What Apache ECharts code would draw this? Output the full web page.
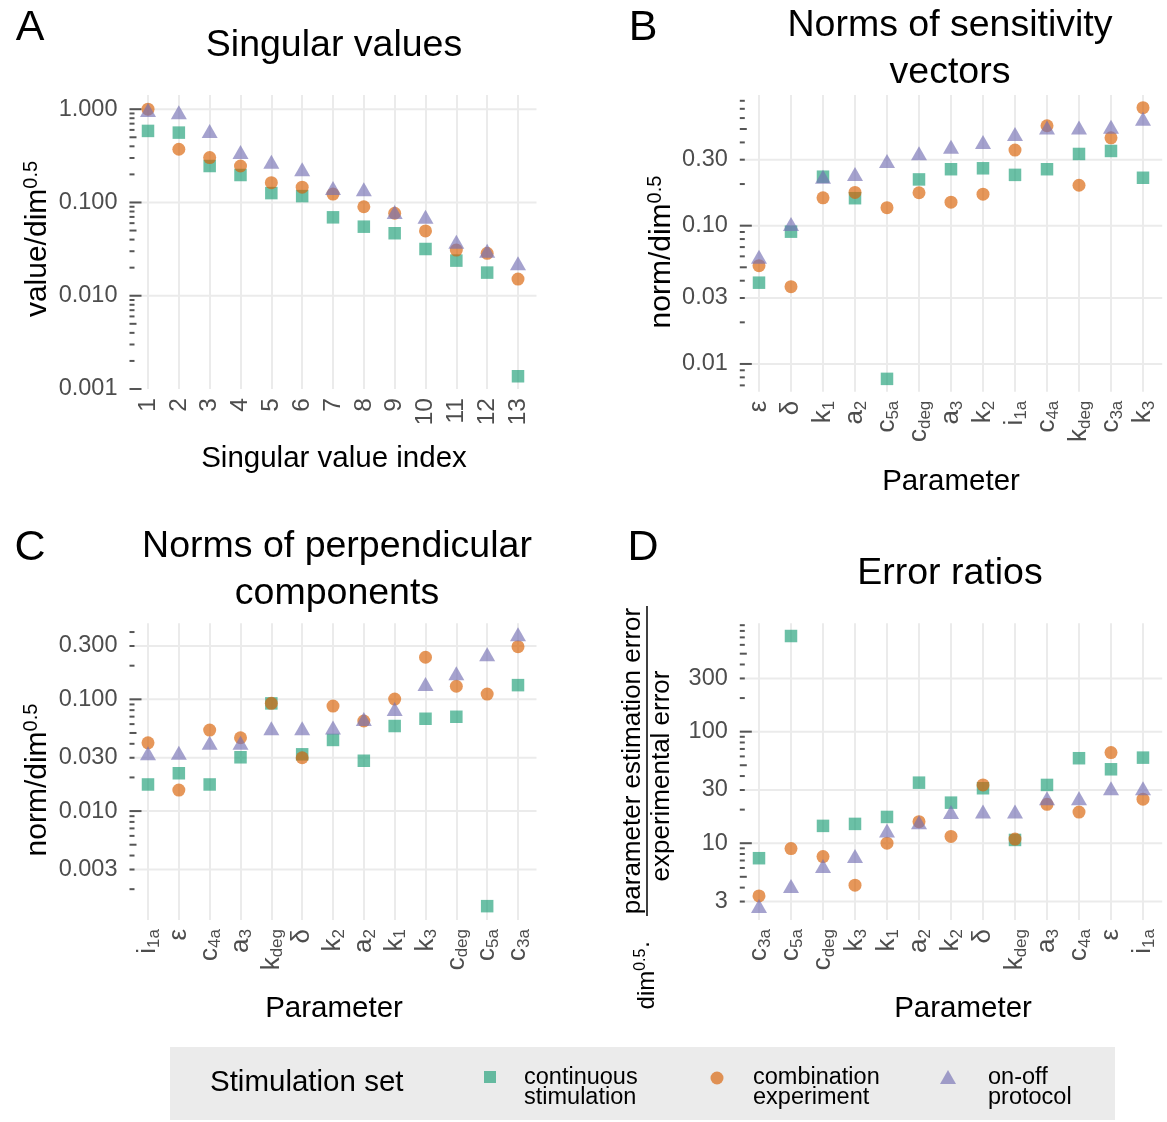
<!DOCTYPE html>
<html><head><meta charset="utf-8">
<script src="https://cdn.jsdelivr.net/npm/echarts@6/dist/echarts.min.js"></script>
<style>html,body{margin:0;padding:0;background:#fff}#c{width:1167px;height:1122px}</style>
</head><body><div id="c"></div><script>
// ---------- data ----------
const svIndex = ['1','2','3','4','5','6','7','8','9','10','11','12','13'];
const svContinuous  = [0.585,0.561,0.246,0.197,0.126,0.117,0.0693,0.055,0.0468,0.0317,0.0238,0.0177,0.00137];
const svCombination = [1.0,0.372,0.303,0.246,0.163,0.146,0.123,0.090,0.0766,0.0495,0.0309,0.0285,0.0151];
const svOnoff       = [0.98,0.93,0.585,0.348,0.274,0.227,0.143,0.139,0.079,0.0704,0.038,0.0304,0.0223];
const svTicks = [1, 0.1, 0.01, 0.001];
const svTickLabels = ['1.000','0.100','0.010','0.001'];

const sensParams = ['ε','δ','k_1','a_2','c_5a','c_deg','a_3','k_2','i_1a','c_4a','k_deg','c_3a','k_3'];
const sensContinuous  = [0.0387,0.0905,0.226,0.158,0.0078,0.216,0.256,0.260,0.233,0.256,0.330,0.347,0.222];
const sensCombination = [0.0514,0.0362,0.159,0.174,0.135,0.173,0.148,0.169,0.352,0.528,0.196,0.432,0.713];
const sensOnoff       = [0.0597,0.103,0.226,0.236,0.294,0.334,0.372,0.403,0.460,0.512,0.512,0.520,0.594];
const sensTicks = [0.3, 0.1, 0.03, 0.01];
const sensTickLabels = ['0.30','0.10','0.03','0.01'];

const perpParams = ['i_1a','ε','c_4a','a_3','k_deg','δ','k_2','a_2','k_1','k_3','c_deg','c_5a','c_3a'];
const perpContinuous  = [0.0173,0.0218,0.0173,0.0303,0.092,0.0322,0.0433,0.0282,0.0577,0.067,0.0698,0.00141,0.134];
const perpCombination = [0.0408,0.0154,0.0531,0.0453,0.092,0.030,0.0871,0.064,0.1006,0.238,0.131,0.1115,0.296];
const perpOnoff       = [0.0329,0.0333,0.0408,0.0408,0.055,0.055,0.0561,0.0667,0.0819,0.137,0.171,0.253,0.382];
const perpTicks = [0.3, 0.1, 0.03, 0.01, 0.003];
const perpTickLabels = ['0.300','0.100','0.030','0.010','0.003'];

const errParams = ['c_3a','c_5a','c_deg','k_3','k_1','a_2','k_2','δ','k_deg','a_3','c_4a','ε','i_1a'];
const errContinuous  = [7.34,720,14.3,14.9,17.2,34.9,23.1,31.1,10.7,33.3,57.8,46.0,58.5];
const errCombination = [3.37,8.95,7.59,4.21,10.0,15.6,11.5,33.3,10.9,22.3,19.0,64.9,24.8];
const errOnoff       = [2.74,4.14,6.26,7.7,13.0,15.4,19.0,19.2,19.2,25.3,25.3,31.1,31.1];
const errTicks = [300, 100, 30, 10, 3];
const errTickLabels = ['300','100','30','10','3'];

const seriesNames = ['continuous stimulation','combination experiment','on-off protocol'];

// ---------- style ----------
const FONT = '"Liberation Sans", Arial, Helvetica, sans-serif';
const COLORS = ['#1b9e77','#d95f02','#7570b3'];
const ALPHA = 0.65;
const SYMBOLS = ['rect','circle','triangle'];
const SIZES = [12.5, 13, [16,14]];
const GRIDCOL = '#ebebeb';
const TICKCOL = '#4d4d4d';

const panels = [
  {cats: svIndex, vals: [svContinuous, svCombination, svOnoff], ticks: svTicks, tickLabels: svTickLabels,
   min: 0.001, max: 1.42, grid: {left:148, top:95, width:370, height:294}, labelSize: 24.5},
  {cats: sensParams, vals: [sensContinuous, sensCombination, sensOnoff], ticks: sensTicks, tickLabels: sensTickLabels,
   min: 0.0063, max: 0.881, grid: {left:759, top:95, width:384, height:296.7}, labelSize: 26},
  {cats: perpParams, vals: [perpContinuous, perpCombination, perpOnoff], ticks: perpTicks, tickLabels: perpTickLabels,
   min: 0.00106, max: 0.479, grid: {left:148, top:623.3, width:370, height:296.7}, labelSize: 26},
  {cats: errParams, vals: [errContinuous, errCombination, errOnoff], ticks: errTicks, tickLabels: errTickLabels,
   min: 2.05, max: 936, grid: {left:759, top:623.3, width:384, height:296.7}, labelSize: 26}
];

function richLabel(s) {
  const i = s.indexOf('_');
  if (i < 0) return '{m|' + s + '}';
  return '{m|' + s.slice(0, i) + '}{s|' + s.slice(i + 1) + '}';
}

// annotation log ticks (1..9 x 10^k inside the axis range)
function logTicks(min, max) {
  const out = [];
  for (let e = Math.floor(Math.log10(min)); e <= Math.ceil(Math.log10(max)); e++) {
    for (let m = 1; m <= 9; m++) {
      const v = m * Math.pow(10, e);
      if (v >= min * 0.999 && v <= max) out.push([0, v, m === 1 ? 2 : (m === 5 ? 1 : 0)]);
    }
  }
  return out;
}

const grids = [], xAxes = [], yAxes = [], series = [];
panels.forEach((p, gi) => {
  grids.push(Object.assign({containLabel: false}, p.grid));
  xAxes.push({
    type: 'category', gridIndex: gi, data: p.cats, boundaryGap: false,
    axisLine: {show: false}, axisTick: {show: false},
    splitLine: {show: true, interval: 0, lineStyle: {color: GRIDCOL, width: 2}},
    axisLabel: {
      interval: 0, rotate: 90, margin: 9, color: TICKCOL,
      formatter: v => richLabel(v),
      rich: {
        m: {fontSize: p.labelSize, fontFamily: FONT, color: TICKCOL, lineHeight: p.labelSize + 3},
        s: {fontSize: 17, fontFamily: FONT, color: TICKCOL, verticalAlign: 'bottom', lineHeight: 17}
      }
    }
  });
  yAxes.push({type: 'log', gridIndex: gi, min: p.min, max: p.max, show: false});

  // horizontal grid lines + y tick labels
  series.push({
    type: 'custom', xAxisIndex: gi, yAxisIndex: gi, z: 1, silent: true, clip: false,
    data: p.ticks.map((v, i) => [0, v, i]),
    renderItem(params, api) {
      const cs = params.coordSys;
      const step = cs.width / (p.cats.length - 1);
      const v = api.value(1);
      const y = api.coord([0, v])[1];
      const x0 = cs.x - 0.6 * step, x1 = cs.x + cs.width + 0.6 * step;
      const children = [];
      if (v > p.min * 1.01) {
        children.push({type: 'line', shape: {x1: x0, y1: y, x2: x1, y2: y},
          style: {stroke: GRIDCOL, lineWidth: 2}});
      }
      children.push({type: 'text', x: x0 - 12, y: y,
        style: {text: p.tickLabels[api.value(2)], fill: TICKCOL, font: '23.5px ' + FONT,
          align: 'right', verticalAlign: 'middle'}});
      return {type: 'group', children};
    }
  });
  // log tick annotation on the left edge
  series.push({
    type: 'custom', xAxisIndex: gi, yAxisIndex: gi, z: 2, silent: true, clip: false,
    data: logTicks(p.min, p.max),
    renderItem(params, api) {
      const cs = params.coordSys;
      const step = cs.width / (p.cats.length - 1);
      const y = api.coord([0, api.value(1)])[1];
      const x0 = cs.x - 0.6 * step;
      const len = [5, 7, 12][api.value(2)];
      return {type: 'line', shape: {x1: x0, y1: y, x2: x0 + len, y2: y},
        style: {stroke: '#555555', lineWidth: 2}};
    }
  });
  // scatter series
  for (let k = 0; k < 3; k++) {
    series.push({
      type: 'scatter', name: seriesNames[k], xAxisIndex: gi, yAxisIndex: gi, z: 3 + k,
      symbol: SYMBOLS[k], symbolSize: SIZES[k],
      itemStyle: {color: COLORS[k], opacity: ALPHA},
      data: p.vals[k]
    });
  }
});

// ---------- text / decorations ----------
const T = (x, y, text, size, extra) => Object.assign({type: 'text', x, y,
  style: Object.assign({text, font: size + 'px ' + FONT, fill: '#000', align: 'center', verticalAlign: 'middle'}, extra || {})});

function rotTitle(x, y, main, sup, size) {
  return {type: 'text', x, y, rotation: Math.PI / 2,
    style: {text: '{a|' + main + '}{b|' + sup + '}', align: 'center', verticalAlign: 'middle',
      rich: {a: {fontSize: size, fontFamily: FONT, color: '#000', lineHeight: size + 4},
             b: {fontSize: 20, fontFamily: FONT, color: '#000', verticalAlign: 'top', lineHeight: 20}}}};
}

const TITLE = 37.5;
const graphic = [
  T(30, 28, 'A', 43), T(643, 28, 'B', 43), T(30, 548, 'C', 43), T(643, 548, 'D', 43),
  T(334, 46, 'Singular values', TITLE),
  T(950, 26, 'Norms of sensitivity', TITLE), T(950, 73, 'vectors', TITLE),
  T(337, 547, 'Norms of perpendicular', TITLE), T(337, 594, 'components', TITLE),
  T(950, 574, 'Error ratios', TITLE),
  T(334, 459, 'Singular value index', 29.5),
  T(951, 482, 'Parameter', 29.5), T(334, 1009, 'Parameter', 29.5), T(963, 1009, 'Parameter', 29.5),
  rotTitle(38, 239, 'value/dim', '0.5', 30),
  rotTitle(662, 252, 'norm/dim', '0.5', 30),
  rotTitle(38, 780, 'norm/dim', '0.5', 30),
  // D y-axis title: dim^0.5 · (parameter estimation error / experimental error)
  {type: 'text', x: 633, y: 761, rotation: Math.PI / 2,
    style: {text: 'parameter estimation error', font: '26px ' + FONT, fill: '#000', align: 'center', verticalAlign: 'middle'}},
  {type: 'line', shape: {x1: 647, y1: 606, x2: 647, y2: 916}, style: {stroke: '#000', lineWidth: 1.5}},
  {type: 'text', x: 662, y: 776, rotation: Math.PI / 2,
    style: {text: 'experimental error', font: '26px ' + FONT, fill: '#000', align: 'center', verticalAlign: 'middle'}},
  {type: 'text', x: 647, y: 975, rotation: Math.PI / 2,
    style: {text: '{a|dim}{b|0.5}{a|·}', align: 'center', verticalAlign: 'middle',
      rich: {a: {fontSize: 24, fontFamily: FONT, color: '#000', lineHeight: 28},
             b: {fontSize: 16, fontFamily: FONT, color: '#000', verticalAlign: 'top', lineHeight: 16}}}},
  // legend
  {type: 'rect', shape: {x: 170, y: 1047, width: 945, height: 73}, style: {fill: '#ebebeb'}},
  T(210, 1083, 'Stimulation set', 29.5, {align: 'left'}),
  {type: 'rect', shape: {x: 484, y: 1071, width: 12, height: 12}, style: {fill: COLORS[0], opacity: ALPHA}},
  {type: 'circle', shape: {cx: 717, cy: 1078, r: 6.5}, style: {fill: COLORS[1], opacity: ALPHA}},
  {type: 'polygon', shape: {points: [[948, 1070], [956, 1084], [940, 1084]]}, style: {fill: COLORS[2], opacity: ALPHA}},
  {type: 'text', x: 524, y: 1088, style: {text: 'continuous\nstimulation', font: '23.5px ' + FONT, fill: '#000', align: 'left', verticalAlign: 'middle', lineHeight: 20}},
  {type: 'text', x: 753, y: 1088, style: {text: 'combination\nexperiment', font: '23.5px ' + FONT, fill: '#000', align: 'left', verticalAlign: 'middle', lineHeight: 20}},
  {type: 'text', x: 988, y: 1088, style: {text: 'on-off\nprotocol', font: '23.5px ' + FONT, fill: '#000', align: 'left', verticalAlign: 'middle', lineHeight: 20}}
];

const chart = echarts.init(document.getElementById('c'), null, {renderer: 'canvas'});
chart.setOption({
  animation: false,
  backgroundColor: '#ffffff',
  textStyle: {fontFamily: FONT},
  grid: grids, xAxis: xAxes, yAxis: yAxes, series, graphic
});
</script></body></html>
